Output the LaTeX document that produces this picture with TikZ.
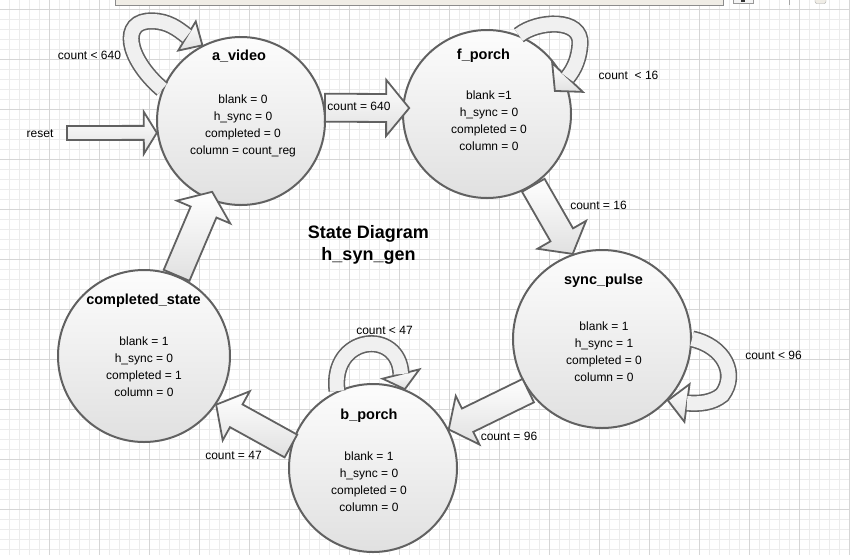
\documentclass[tikz,border=0pt]{standalone}
\usepackage{fontspec}
\setmainfont{Liberation Sans}
\usetikzlibrary{calc}
\definecolor{uibar}{HTML}{F0EDE6}

\begin{document}
\begin{tikzpicture}[x=1pt,y=-1pt,
	minorgrid/.style={draw=gray!15,line width=0.8pt},
	majorgrid/.style={draw=gray!32,line width=0.8pt},
	stateball/.style={circle,draw=black!62,line width=2pt,top color=gray!2,bottom color=gray!24,minimum size=#1,inner sep=0pt},
	statename/.style={font=\bfseries\fontsize{14.5}{17}\selectfont},
	stateouts/.style={align=center,inner sep=0pt,font=\fontsize{12}{17}\selectfont},
	edgelabel/.style={inner sep=0pt,font=\fontsize{12}{14}\selectfont},
	arrowbody/.style={draw=black!62,line width=1.8pt,line join=miter,top color=white,bottom color=gray!24},
	fat arrow/.style n args={3}{arrowbody,to path={
		let \p1=(\tikztostart), \p2=(\tikztotarget), \n1={atan2(\y2-\y1,\x2-\x1)} in
		($(\p1)+(\n1+90:#1)$) -- ($(\p2)+(\n1+180:#3)+(\n1+90:#1)$) -- ($(\p2)+(\n1+180:#3)+(\n1+90:#2)$)
		-- (\p2) -- ($(\p2)+(\n1+180:#3)+(\n1-90:#2)$) -- ($(\p2)+(\n1+180:#3)+(\n1-90:#1)$)
		-- ($(\p1)+(\n1-90:#1)$) -- cycle}},
	fat head/.style={arrowbody,to path={
		let \p1=(\tikztostart), \p2=(\tikztotarget), \n1={atan2(\y2-\y1,\x2-\x1)} in
		($(\p1)+(\n1+90:#1)$) -- (\p2) -- ($(\p1)+(\n1-90:#1)$) -- cycle}},
	band/.style={draw=black!62,line width=1.6pt,double=gray!12,double distance=#1}
	]
	\useasboundingbox (0,0) rectangle (850,555);

	% grid
	\foreach \x in {9.3,19.3,...,849.3}
		\draw[minorgrid] (\x,0) -- (\x,555);
	\foreach \y in {9.3,19.3,...,549.3}
		\draw[minorgrid] (0,\y) -- (850,\y);
	\foreach \x in {49.3,99.3,...,849.3}
		\draw[majorgrid] (\x,0) -- (\x,555);
	\foreach \y in {9.3,59.3,...,509.3}
		\draw[majorgrid] (0,\y) -- (850,\y);

	% bits of the window above
	\draw[draw=black!45,fill=uibar] (115.5,-2) rectangle (723.5,5.5);
	\draw[draw=black!40,fill=gray!8] (733,-2) rectangle (753,3);
	\fill[black!80] (741,-2) rectangle (745,2);
	\draw[black!35,line width=0.8pt] (789.5,0) -- (789.5,5);
	\draw[draw=black!35,fill=uibar,rounded corners=2pt] (815,-3) rectangle (826,3.5);

	% states
	\node (avideo)[stateball=168pt] at (241,121) {};
	\node (fporch)[stateball=168pt] at (487,114) {};
	\node (syncpulse)[stateball=178pt] at (602,339) {};
	\node (compstate)[stateball=172pt] at (144,356) {};
	\node (bporch)[stateball=168pt] at (373,468) {};

	\node (avideo name)[statename] at (239,56) {a\_video};
	\node (avideo outs)[stateouts] at (243,125.5) {blank = 0\\h\_sync = 0\\completed = 0\\column = count\_reg};
	\node (fporch name)[statename] at (483.5,56) {f\_porch};
	\node (fporch outs)[stateouts] at (489,120.5) {blank =1\\h\_sync = 0\\completed = 0\\column = 0};
	\node (syncpulse name)[statename] at (603.5,281) {sync\_pulse};
	\node (syncpulse outs)[stateouts] at (604,351.5) {blank = 1\\h\_sync = 1\\completed = 0\\column = 0};
	\node (compstate name)[statename] at (143.5,301) {completed\_state};
	\node (compstate outs)[stateouts] at (144,366.5) {blank = 1\\h\_sync = 0\\completed = 1\\column = 0};
	\node (bporch name)[statename] at (369,416) {b\_porch};
	\node (bporch outs)[stateouts] at (369,481.5) {blank = 1\\h\_sync = 0\\completed = 0\\column = 0};

	% transitions
	\coordinate (resetstart) at (67,133);
	\draw[fat arrow={7pt}{21pt}{13pt}] (resetstart) to (avideo.188);
	\draw[fat arrow={14pt}{28pt}{23pt}] (avideo.9) to ($(fporch.176)+(7,0)$);
	\draw[fat arrow={13pt}{28pt}{22pt}] (fporch.-57) to (syncpulse.109);
	\draw[fat arrow={13pt}{27pt}{21pt}] (syncpulse.215) to (bporch.27);
	\draw[fat arrow={13pt}{28pt}{23pt}] (bporch.165) to (compstate.-34);
	\draw[fat arrow={14pt}{29pt}{22pt}] (compstate.68) to ($(avideo.248)+(3,-8)$);

	% self loops
	\coordinate (loopA) at (187,36);
	\draw[fat head=17pt] (loopA) to (avideo.117);
	\draw[band=14pt] (avideo.158) .. controls (126,58) and (120,20) .. (152,21) .. controls (168,21) and (178,29) .. (loopA);

	\coordinate (loopF) at (567.5,77.5);
	\draw[fat head=21pt] (loopF) to ($(fporch.20)+(-12,6)$);
	\draw[band=14pt] (fporch.68) .. controls (538,20) and (582,18) .. (580,44) .. controls (579,58) and (575,68) .. (loopF);

	\coordinate (loopS) at (687,403);
	\draw[fat head=19pt] (loopS) to (syncpulse.-43);
	\draw[band=14pt] (syncpulse.0) .. controls (724,346) and (738,374) .. (722,395) .. controls (712,403) and (699,404) .. (loopS);

	\coordinate (loopB) at (401,374);
	\draw[fat head=19pt] (loopB) to (bporch.68);
	\draw[band=14pt] (bporch.115) .. controls (330,335) and (399,328) .. (loopB);

	% labels
	\node (lbl reset)[edgelabel] at (40,134) {reset};
	\node (lbl a loop)[edgelabel] at (89.5,55) {count < 640};
	\node (lbl a to f)[edgelabel] at (359,106) {count = 640};
	\node (lbl f loop)[edgelabel] at (628.5,75.5) {count~ < 16};
	\node (lbl f to s)[edgelabel] at (598.5,205.5) {count = 16};
	\node (lbl s loop)[edgelabel] at (773.5,355.5) {count < 96};
	\node (lbl s to b)[edgelabel] at (509,436) {count = 96};
	\node (lbl b loop)[edgelabel] at (384.5,330) {count < 47};
	\node (lbl b to c)[edgelabel] at (233.5,455.5) {count = 47};

	\node (diagram title)[align=center,font=\bfseries\fontsize{18}{22}\selectfont] at (368.5,245) {State Diagram\\h\_syn\_gen};
\end{tikzpicture}
\end{document}
